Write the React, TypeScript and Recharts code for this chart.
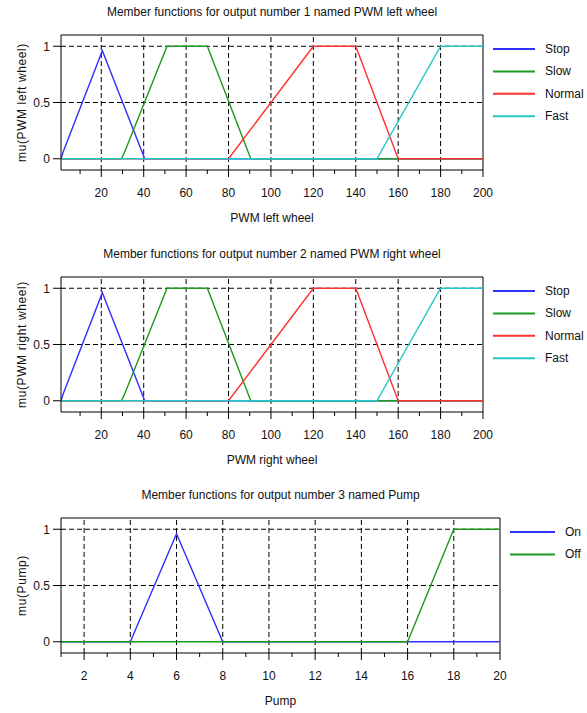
import { LineChart, Line, XAxis, YAxis, ReferenceLine, Legend, Label } from 'recharts'

// x-axis ticks (every 10, labelled every 20) and dashed grid positions
const pwmTicks = [10, 20, 30, 40, 50, 60, 70, 80, 90, 100, 110, 120, 130, 140, 150, 160, 170, 180, 190, 200]
const pwmLabelled = [20, 40, 60, 80, 100, 120, 140, 160, 180, 200]
const pwmGridX = [20, 40, 60, 80, 100, 120, 140, 160, 180]

const pumpTicks = [1, 2, 3, 4, 5, 6, 7, 8, 9, 10, 11, 12, 13, 14, 15, 16, 17, 18, 19, 20]
const pumpLabelled = [2, 4, 6, 8, 10, 12, 14, 16, 18, 20]
const pumpGridX = [2, 4, 6, 8, 10, 12, 14, 16, 18]

const muTicks = [0, 0.5, 1]
const muGridY = [0.5, 1]

// membership functions, PWM wheels (same sets for left and right)
const pwmStop = [{ x: 1, y: 0 }, { x: 2, y: 0.06 }, { x: 20.5, y: 0.96 }, { x: 40.5, y: 0 }, { x: 200, y: 0 }]
const pwmSlow = [{ x: 1, y: 0 }, { x: 29.5, y: 0 }, { x: 31, y: 0.06 }, { x: 51, y: 1 }, { x: 70, y: 1 }, { x: 90.5, y: 0 }, { x: 200, y: 0 }]
const pwmNormal = [{ x: 1, y: 0 }, { x: 80, y: 0 }, { x: 120, y: 1 }, { x: 140, y: 1 }, { x: 160, y: 0 }, { x: 200, y: 0 }]
const pwmFast = [{ x: 1, y: 0 }, { x: 150, y: 0 }, { x: 180, y: 1 }, { x: 200, y: 1 }]

// membership functions, pump
const pumpOn = [{ x: 1, y: 0 }, { x: 4, y: 0 }, { x: 6, y: 0.96 }, { x: 8, y: 0 }, { x: 20, y: 0 }]
const pumpOff = [{ x: 1, y: 0 }, { x: 16, y: 0 }, { x: 18, y: 1 }, { x: 20, y: 1 }]

const FONT = '"Liberation Sans", Arial, sans-serif'
const INK = '#111'

const pwmSeries = [
    { name: 'Stop', data: pwmStop, color: '#3030ff' },
    { name: 'Slow', data: pwmSlow, color: '#1f9a1f' },
    { name: 'Normal', data: pwmNormal, color: '#ff3030' },
    { name: 'Fast', data: pwmFast, color: '#22c8c8' },
]
const pumpSeries = [
    { name: 'On', data: pumpOn, color: '#3030ff' },
    { name: 'Off', data: pumpOff, color: '#1f9a1f' },
]

function makeTick(labelled: number[]) {
    return (props: any) => {
        const { x, y, payload } = props
        const major = labelled.includes(payload.value)
        return (
            <g>
                <line x1={x} x2={x} y1={y} y2={y + (major ? 7 : 4)} stroke="#000" />
                {major && (
                    <text x={x} y={y + 27} textAnchor="middle" fontSize={12} fill={INK} fontFamily={FONT}>
                        {payload.value}
                    </text>
                )}
            </g>
        )
    }
}

function LegendBox({ payload, lineLen }: any) {
    return (
        <svg width={110} height={100} style={{ overflow: 'visible', display: 'block' }}>
            {(payload || []).map((p: any, i: number) => (
                <g key={p.value}>
                    <line x1={0} x2={lineLen} y1={9 + i * 22.4} y2={9 + i * 22.4} stroke={p.color} strokeWidth={2} />
                    <text x={lineLen + 10} y={13 + i * 22.4} fontSize={12} fill={INK} fontFamily={FONT}>{p.value}</text>
                </g>
            ))}
        </svg>
    )
}

function Panel({ title, xLabel, yLabel, series, domain, ticks, labelled, gridX, right, height, legendLeft, lineLen }: any) {
    const plotH = 135
    const order = series.map((s: any) => s.name)
    return (
        <div style={{ position: 'relative', width: 587, height }}>
            <div style={{ position: 'absolute', left: 61, width: 587 - 61 - right, top: 5, textAlign: 'center', fontSize: 12, color: INK, fontFamily: FONT }}>
                {title}
            </div>
            <LineChart width={587} height={height} margin={{ top: 35, right, left: 0, bottom: 0 }}>
                <XAxis
                    dataKey="x"
                    type="number"
                    domain={domain}
                    ticks={ticks}
                    interval={0}
                    allowDataOverflow
                    height={height - 35 - plotH}
                    tickSize={0}
                    tickMargin={0}
                    tickLine={false}
                    tick={makeTick(labelled)}
                    axisLine={{ stroke: '#000' }}
                >
                    <Label value={xLabel} position="insideTop" offset={43} style={{ fontSize: 12, fill: INK, fontFamily: FONT }} />
                </XAxis>
                <YAxis
                    type="number"
                    domain={[-0.1, 1.1]}
                    ticks={muTicks}
                    allowDataOverflow
                    width={61}
                    tickSize={8}
                    tickMargin={3}
                    tick={{ fontSize: 12, fill: INK, fontFamily: FONT }}
                    tickLine={{ stroke: '#000' }}
                    axisLine={{ stroke: '#000' }}
                >
                    <Label
                        value={yLabel}
                        angle={-90}
                        position="insideLeft"
                        offset={22}
                        style={{ fontSize: 12, fill: INK, fontFamily: FONT, textAnchor: 'middle', letterSpacing: 0.6 }}
                    />
                </YAxis>
                {gridX.map((v: number) => (
                    <ReferenceLine key={'gx' + v} x={v} stroke="#000" strokeDasharray="5 3" />
                ))}
                {muGridY.map((v: number) => (
                    <ReferenceLine key={'gy' + v} y={v} stroke="#000" strokeDasharray="5 3" />
                ))}
                <ReferenceLine y={1.1} stroke="#000" />
                <ReferenceLine x={domain[1]} stroke="#000" />
                {series.map((s: any) => (
                    <Line
                        key={s.name}
                        data={s.data}
                        dataKey="y"
                        name={s.name}
                        stroke={s.color}
                        strokeWidth={1.4}
                        dot={false}
                        type="linear"
                        isAnimationActive={false}
                    />
                ))}
                <Legend
                    layout="horizontal"
                    verticalAlign="middle"
                    align="center"
                    itemSorter={(item: any) => order.indexOf(item.value)}
                    wrapperStyle={{ left: legendLeft, top: 40, width: 110, height: 100 }}
                    content={(p: any) => <LegendBox payload={p.payload} lineLen={lineLen} />}
                />
            </LineChart>
        </div>
    )
}

export default function App() {
    return (
        <div style={{ position: 'absolute', left: 0, top: 0, width: 587, height: 713, overflow: 'hidden', background: '#fff' }}>
            <Panel
                title="Member functions for output number 1 named PWM left wheel"
                xLabel="PWM left wheel"
                yLabel="mu(PWM left wheel)"
                series={pwmSeries}
                domain={[1, 200]}
                ticks={pwmTicks}
                labelled={pwmLabelled}
                gridX={pwmGridX}
                right={104}
                height={242}
                legendLeft={493}
                lineLen={42}
            />
            <Panel
                title="Member functions for output number 2 named PWM right wheel"
                xLabel="PWM right wheel"
                yLabel="mu(PWM right wheel)"
                series={pwmSeries}
                domain={[1, 200]}
                ticks={pwmTicks}
                labelled={pwmLabelled}
                gridX={pwmGridX}
                right={104}
                height={241}
                legendLeft={493}
                lineLen={42}
            />
            <Panel
                title="Member functions for output number 3 named Pump"
                xLabel="Pump"
                yLabel="mu(Pump)"
                series={pumpSeries}
                domain={[1, 20]}
                ticks={pumpTicks}
                labelled={pumpLabelled}
                gridX={pumpGridX}
                right={87}
                height={230}
                legendLeft={510}
                lineLen={45}
            />
        </div>
    )
}
